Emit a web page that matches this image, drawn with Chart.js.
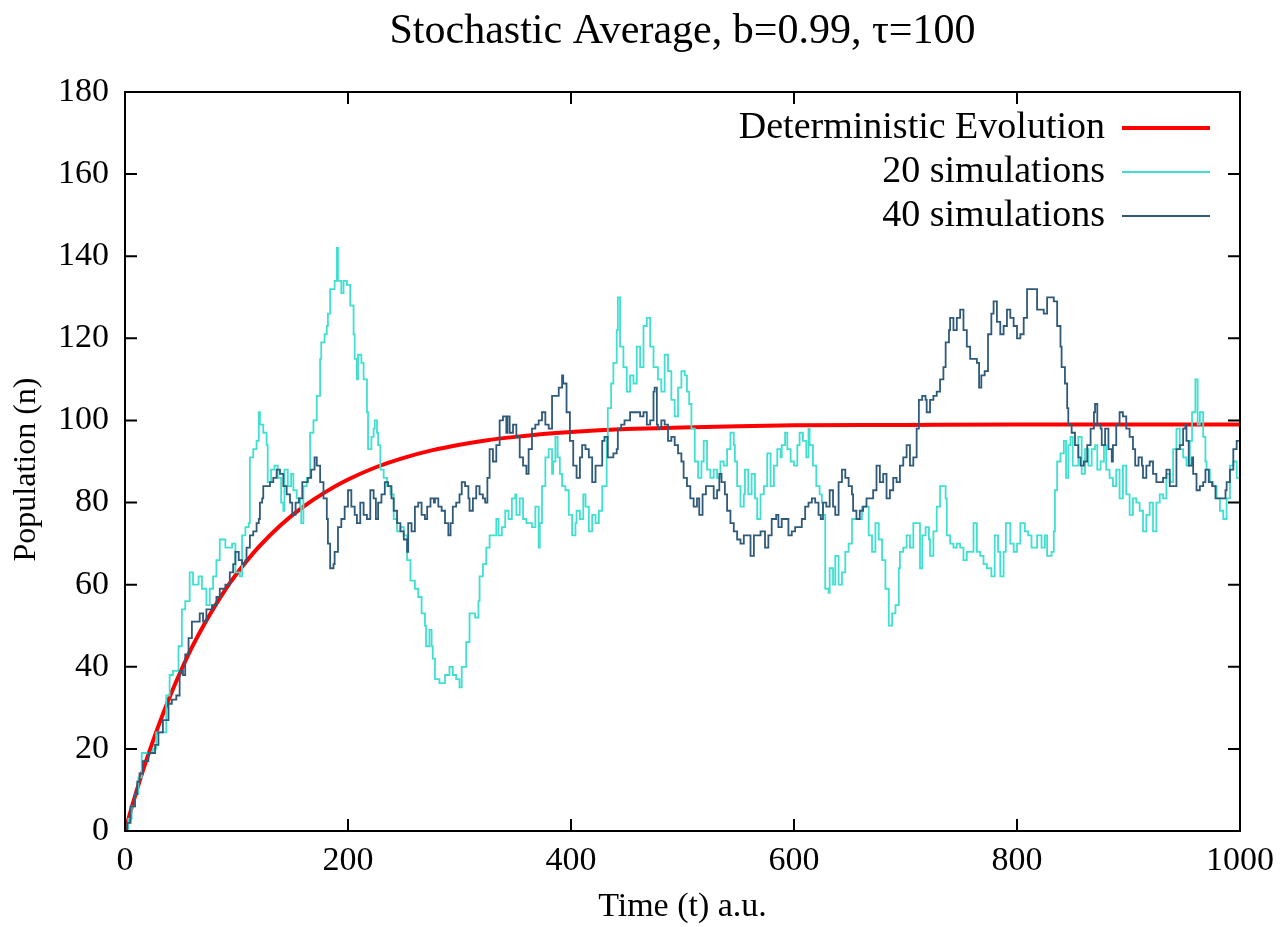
<!DOCTYPE html>
<html>
<head>
<meta charset="utf-8">
<title>Stochastic Average</title>
<script src="https://cdn.jsdelivr.net/npm/chart.js@4.4.1/dist/chart.umd.min.js"></script>
<style>
  html, body { margin: 0; padding: 0; background: #fff; }
  #wrap { width: 1285px; height: 927px; }
</style>
</head>
<body>
<div id="wrap"><canvas id="chart"></canvas></div>
<script>
// deterministic evolution
const detT = [0, 5, 10, 15, 20, 30, 40, 50, 60, 70, 80, 90, 100, 120, 140, 160, 180, 200, 225, 250, 275, 300, 325, 350, 375, 400, 450, 500, 550, 600, 700, 800, 900, 1000];
const detN = [0, 4.8, 9.4, 13.8, 17.9, 25.6, 32.6, 38.9, 44.7, 49.8, 54.5, 58.8, 62.6, 69.2, 74.6, 79.0, 82.6, 85.6, 88.6, 90.9, 92.7, 94.1, 95.2, 96.0, 96.7, 97.2, 97.9, 98.3, 98.6, 98.8, 98.9, 99.0, 99.0, 99.0];

// [t, n] steps, 20 simulations
const sim20 = [[0,0],[3,3],[6,6],[9,9],[12,13],[15,19],[25,20],[28,24],[37,33],[40,38],[43,39],[48,45],[51,54],[54,56],[58,63],[61,60],[66,62],[69,59],[73,55],[76,59],[79,62],[82,66],[85,71],[90,69],[96,70],[99,63],[103,62],[105,72],[108,74],[111,75],[112,91],[115,93],[118,95],[120,102],[121,99],[124,97],[127,94],[128,85],[131,88],[134,89],[137,86],[140,80],[142,78],[143,88],[146,84],[149,87],[151,83],[154,81],[157,79],[158,75],[160,84],[163,86],[166,97],[169,100],[172,106],[175,115],[176,119],[179,121],[181,123],[182,126],[184,132],[187,132],[188,134],[190,142],[191,134],[194,131],[196,134],[199,133],[202,128],[205,121],[206,115],[208,110],[209,116],[212,114],[214,110],[217,102],[218,93],[221,96],[223,98],[224,100],[226,97],[227,94],[229,88],[232,86],[235,84],[238,82],[241,76],[244,73],[247,74],[250,72],[253,66],[256,61],[260,59],[263,57],[266,53],[269,50],[270,45],[273,49],[275,45],[276,42],[278,37],[282,36],[287,38],[291,40],[294,38],[297,37],[300,35],[302,40],[306,46],[309,53],[314,52],[317,56],[318,62],[321,65],[324,69],[327,72],[330,72],[333,76],[335,72],[338,74],[341,78],[344,76],[347,81],[350,82],[351,77],[354,81],[357,76],[360,75],[365,74],[368,79],[371,69],[372,75],[374,84],[377,91],[380,93],[383,87],[384,90],[386,96],[388,91],[390,87],[392,84],[395,83],[398,77],[401,72],[404,75],[405,78],[408,76],[411,82],[413,79],[416,73],[419,77],[422,75],[425,78],[428,84],[431,84],[432,96],[433,103],[436,109],[438,114],[441,122],[442,130],[444,118],[447,113],[450,107],[453,111],[456,109],[459,118],[462,113],[465,123],[468,125],[471,118],[474,113],[478,110],[481,107],[484,116],[487,112],[490,105],[493,101],[496,108],[499,112],[502,111],[504,107],[506,104],[508,98],[511,90],[514,86],[517,90],[519,95],[522,88],[525,86],[528,88],[531,86],[534,90],[537,89],[540,93],[543,97],[546,94],[547,90],[549,84],[552,79],[555,82],[556,88],[559,82],[562,87],[565,81],[567,76],[570,82],[573,84],[576,92],[579,84],[582,89],[585,93],[588,91],[589,94],[592,97],[594,93],[597,90],[600,89],[603,94],[605,97],[608,95],[611,91],[613,98],[614,94],[617,89],[620,84],[623,82],[625,80],[626,77],[628,59],[631,58],[632,64],[635,60],[637,67],[640,60],[643,63],[646,68],[649,70],[652,76],[658,76],[661,79],[664,79],[667,72],[670,68],[673,75],[676,71],[679,66],[682,59],[685,50],[688,53],[691,55],[694,64],[695,68],[698,69],[701,72],[704,69],[707,75],[710,75],[713,64],[715,72],[718,74],[721,71],[722,67],[725,73],[728,79],[731,84],[734,84],[736,81],[737,72],[740,70],[743,69],[746,70],[749,69],[752,66],[755,68],[758,68],[761,75],[764,68],[767,67],[770,65],[773,64],[777,62],[780,72],[783,68],[785,62],[788,68],[790,75],[794,70],[797,68],[800,70],[803,75],[807,73],[810,72],[813,69],[818,72],[822,69],[825,72],[827,67],[831,68],[833,73],[834,83],[836,90],[839,92],[842,95],[844,86],[846,94],[848,96],[850,89],[852,89],[855,96],[858,87],[861,93],[864,89],[867,93],[870,94],[872,88],[875,90],[878,94],[880,88],[883,86],[886,84],[889,88],[892,81],[895,89],[898,82],[901,77],[904,81],[907,80],[910,78],[913,73],[916,77],[919,80],[922,73],[925,80],[928,82],[931,81],[934,87],[937,85],[940,93],[943,98],[946,93],[949,91],[952,89],[955,95],[957,102],[960,110],[962,99],[964,102],[967,96],[969,90],[970,88],[973,85],[976,84],[979,81],[982,78],[985,76],[988,81],[991,89],[994,90],[997,86],[1000,86]];

// [t, n] steps, 40 simulations
const sim40 = [[0,0],[2,2],[5,6],[9,9],[11,12],[13,14],[16,17],[21,19],[24,19],[27,21],[30,24],[34,27],[39,31],[42,32],[46,33],[49,39],[52,38],[54,43],[57,47],[60,51],[64,51],[67,53],[70,51],[73,54],[78,55],[82,57],[85,59],[90,60],[94,63],[97,65],[99,68],[102,66],[105,65],[108,66],[109,69],[112,72],[115,73],[118,75],[120,76],[121,80],[123,81],[124,84],[127,84],[130,85],[133,86],[136,88],[139,87],[142,84],[145,82],[148,80],[150,77],[153,80],[156,81],[159,85],[161,85],[164,86],[167,88],[170,91],[172,89],[175,85],[178,81],[181,76],[182,70],[184,64],[187,65],[188,68],[191,74],[194,76],[197,79],[200,83],[203,79],[206,77],[208,75],[211,80],[214,77],[217,76],[220,83],[223,81],[225,76],[227,80],[230,82],[233,85],[236,84],[239,81],[241,78],[244,75],[247,73],[250,71],[253,68],[254,75],[257,73],[260,79],[263,80],[266,77],[269,76],[271,79],[274,81],[277,80],[278,81],[281,79],[284,78],[287,75],[290,72],[292,75],[294,79],[297,80],[300,82],[302,85],[305,84],[308,81],[309,78],[312,81],[315,84],[318,82],[321,81],[323,80],[325,86],[327,93],[330,90],[333,94],[336,100],[339,101],[342,97],[343,101],[345,97],[348,99],[351,96],[354,91],[357,89],[360,87],[362,93],[365,98],[368,99],[371,100],[374,102],[377,99],[380,98],[383,106],[386,106],[389,108],[392,111],[393,109],[396,102],[399,95],[402,89],[405,86],[408,91],[410,94],[413,93],[416,91],[419,85],[422,89],[425,89],[428,95],[430,96],[433,91],[438,92],[441,93],[442,98],[445,99],[448,100],[453,102],[457,102],[462,101],[465,102],[468,99],[471,100],[474,107],[475,108],[477,99],[478,98],[481,100],[484,99],[487,95],[490,96],[493,94],[496,92],[499,90],[501,86],[504,84],[507,81],[510,79],[513,81],[515,77],[518,82],[521,84],[524,84],[528,81],[531,83],[533,87],[535,85],[538,82],[540,78],[543,75],[546,73],[549,71],[552,70],[555,72],[558,72],[561,67],[564,72],[567,72],[570,73],[574,69],[577,72],[580,76],[584,77],[586,74],[589,76],[592,76],[595,72],[598,73],[601,74],[604,74],[607,76],[610,79],[613,80],[616,81],[619,80],[622,77],[624,76],[626,80],[629,79],[632,83],[635,79],[637,77],[640,85],[643,88],[646,86],[649,84],[652,82],[653,78],[656,76],[659,78],[662,79],[665,81],[668,81],[671,83],[674,89],[677,85],[680,87],[683,81],[686,83],[689,86],[692,85],[695,89],[698,91],[701,94],[704,89],[707,91],[710,98],[712,105],[715,106],[718,105],[719,102],[722,105],[725,106],[728,107],[731,110],[734,113],[736,119],[739,122],[740,125],[743,122],[746,125],[749,127],[752,122],[755,118],[758,115],[761,115],[764,114],[766,108],[768,111],[771,112],[774,121],[777,126],[779,129],[782,124],[785,121],[788,123],[791,127],[794,125],[797,123],[800,120],[803,121],[806,125],[809,132],[816,132],[818,127],[821,127],[824,126],[827,130],[830,130],[833,129],[836,123],[839,118],[840,113],[843,109],[845,103],[846,99],[849,97],[852,94],[855,91],[857,89],[860,90],[863,94],[866,98],[869,102],[870,104],[872,99],[875,98],[876,94],[879,98],[882,93],[885,90],[886,94],[889,99],[892,102],[895,101],[898,98],[901,96],[904,93],[906,89],[909,91],[912,89],[913,86],[916,89],[919,90],[922,87],[925,85],[928,85],[931,86],[934,88],[937,84],[940,84],[943,93],[946,94],[949,98],[951,99],[952,95],[954,89],[957,91],[958,87],[961,83],[964,84],[967,85],[969,88],[972,85],[975,84],[978,81],[981,81],[984,81],[987,83],[988,85],[991,88],[994,93],[997,95],[1000,96]];

const xTicks = [0, 200, 400, 600, 800, 1000];
const yTicks = [0, 20, 40, 60, 80, 100, 120, 140, 160, 180];

const FONT = 'Liberation Serif, Times New Roman, serif';

// gnuplot style frame with inward ticks on all four sides
const framePlugin = {
  id: 'frame',
  afterDatasetsDraw(chart) {
    const { ctx, chartArea: a, scales: { x, y } } = chart;
    const len = 12;
    ctx.save();
    ctx.strokeStyle = '#000';
    ctx.lineWidth = 2;
    ctx.beginPath();
    x.ticks.forEach(t => {
      const px = x.getPixelForValue(t.value);
      ctx.moveTo(px, a.bottom); ctx.lineTo(px, a.bottom - len);
      ctx.moveTo(px, a.top); ctx.lineTo(px, a.top + len);
    });
    y.ticks.forEach(t => {
      const py = y.getPixelForValue(t.value);
      ctx.moveTo(a.left, py); ctx.lineTo(a.left + len, py);
      ctx.moveTo(a.right, py); ctx.lineTo(a.right - len, py);
    });
    ctx.stroke();
    ctx.strokeRect(a.left, a.top, a.right - a.left, a.bottom - a.top);
    ctx.restore();
  }
};

// key in the top right corner: text right-aligned, line sample after it
const keyPlugin = {
  id: 'key',
  afterDatasetsDraw(chart) {
    const { ctx, chartArea: a } = chart;
    ctx.save();
    ctx.font = '38px ' + FONT;
    ctx.textAlign = 'right';
    ctx.textBaseline = 'middle';
    ctx.fillStyle = '#000';
    chart.data.datasets.forEach((ds, i) => {
      const yy = a.top + 36 + i * 44;
      ctx.fillText(ds.label, a.right - 135, yy);
      ctx.strokeStyle = ds.borderColor;
      ctx.lineWidth = ds.borderWidth;
      ctx.beginPath();
      ctx.moveTo(a.right - 118, yy);
      ctx.lineTo(a.right - 30, yy);
      ctx.stroke();
    });
    ctx.restore();
  }
};

new Chart(document.getElementById('chart'), {
  type: 'line',
  data: {
    datasets: [
      {
        label: 'Deterministic Evolution',
        data: detT.map((t, i) => ({ x: t, y: detN[i] })),
        borderColor: '#ff0000',
        borderWidth: 4,
        pointRadius: 0,
        cubicInterpolationMode: 'monotone',
        order: 3
      },
      {
        label: '20 simulations',
        data: sim20.map(p => ({ x: p[0], y: p[1] })),
        borderColor: '#40e0d0',
        borderWidth: 1.8,
        pointRadius: 0,
        stepped: true,
        order: 2
      },
      {
        label: '40 simulations',
        data: sim40.map(p => ({ x: p[0], y: p[1] })),
        borderColor: '#2f5a7a',
        borderWidth: 1.8,
        pointRadius: 0,
        stepped: true,
        order: 1
      }
    ]
  },
  options: {
    responsive: true,
    maintainAspectRatio: false,
    animation: false,
    layout: { padding: { left: 0, right: 45, top: 0, bottom: 0 } },
    plugins: {
      legend: { display: false },
      tooltip: { enabled: false },
      title: {
        display: true,
        fullSize: false,
        text: 'Stochastic Average, b=0.99, \u03c4=100',
        color: '#000',
        font: { family: FONT, size: 42, weight: 'normal' },
        padding: { top: 7, bottom: 92 - 7 - 42 * 1.2 }
      }
    },
    scales: {
      x: {
        type: 'linear',
        min: 0, max: 1000,
        afterBuildTicks: s => { s.ticks = xTicks.map(v => ({ value: v })); },
        afterFit: s => { s.height = 96; },
        grid: { display: false, drawTicks: false },
        border: { display: false },
        ticks: { color: '#000', font: { family: FONT, size: 34 }, padding: 10, maxRotation: 0, callback: v => String(v) },
        title: { display: true, text: 'Time (t) a.u.', color: '#000', font: { family: FONT, size: 34 }, padding: { top: 0, bottom: 0 } }
      },
      y: {
        min: 0, max: 180,
        afterBuildTicks: s => { s.ticks = yTicks.map(v => ({ value: v })); },
        afterFit: s => { s.width = 125; },
        grid: { display: false, drawTicks: false },
        border: { display: false },
        ticks: { color: '#000', font: { family: FONT, size: 34 }, padding: 16, callback: v => String(v) },
        title: { display: true, text: 'Population (n)  ', color: '#000', font: { family: FONT, size: 32 }, padding: { top: 7, bottom: 0 } }
      }
    }
  },
  plugins: [framePlugin, keyPlugin]
});
</script>
</body>
</html>
